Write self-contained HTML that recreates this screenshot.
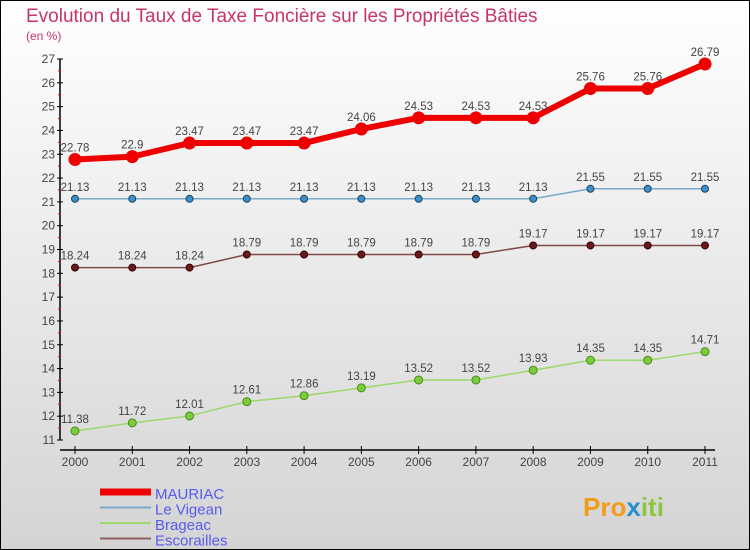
<!DOCTYPE html>
<html><head><meta charset="utf-8"><style>
body{margin:0}
#c{width:750px;height:550px;position:relative;box-sizing:border-box;border:1px solid #000;background:linear-gradient(#ffffff,#d4d4d4);font-family:"Liberation Sans",sans-serif;overflow:hidden}
</style></head><body>
<div id="c">
<svg id="s" width="750" height="550" style="position:absolute;left:-1px;top:-1px">
<text x="26" y="22" font-size="19" fill="#c8336a">Evolution du Taux de Taxe Foncière sur les Propriétés Bâties</text>
<text x="26" y="40" font-size="12" fill="#c8336a">(en %)</text>
<g id="axes"></g><g id="series"></g><g id="legend"></g>
<text x="583" y="516" font-size="26" font-weight="bold" fill="#f39c1a">Pro<tspan fill="#2a8fd0">x</tspan><tspan fill="#8cc63e">iti</tspan></text>
</svg>
</div>
<script>
const years=[2000,2001,2002,2003,2004,2005,2006,2007,2008,2009,2010,2011];
const yTicks=[11,12,13,14,15,16,17,18,19,20,21,22,23,24,25,26,27];
const mauriac=[22.78,22.9,23.47,23.47,23.47,24.06,24.53,24.53,24.53,25.76,25.76,26.79];
const vigean=[21.13,21.13,21.13,21.13,21.13,21.13,21.13,21.13,21.13,21.55,21.55,21.55];
const brageac=[11.38,11.72,12.01,12.61,12.86,13.19,13.52,13.52,13.93,14.35,14.35,14.71];
const escorailles=[18.24,18.24,18.24,18.79,18.79,18.79,18.79,18.79,19.17,19.17,19.17,19.17];
const NS='http://www.w3.org/2000/svg';
const x=i=>75+i*(630/11);
const y=v=>440-(v-11)*(381/16);
function mk(t,a,p){const e=document.createElementNS(NS,t);for(const k in a)e.setAttribute(k,a[k]);p.appendChild(e);return e;}
const ax=document.getElementById('axes');
let l=mk('line',{x1:60,y1:59,x2:60,y2:440,stroke:'#000','stroke-width':1.5},ax);


l=mk('line',{x1:60,y1:450,x2:715,y2:450,stroke:'#000','stroke-width':1.5},ax);


yTicks.forEach((v,i)=>{
 mk('line',{x1:57,x2:63,y1:y(v),y2:y(v),stroke:'#000'},ax);
 if(i<yTicks.length-1)mk('line',{x1:58,x2:61,y1:y(v+0.5),y2:y(v+0.5),stroke:'#e00'},ax);
 const t=mk('text',{x:55,y:y(v)+4,'font-size':12,'text-anchor':'end',fill:'#444'},ax);t.textContent=v;
 
 
});
years.forEach((yr,i)=>{
 mk('line',{x1:x(i),x2:x(i),y1:446,y2:454,stroke:'#000'},ax);
 const t=mk('text',{x:x(i),y:466,'font-size':12,'text-anchor':'middle',fill:'#444'},ax);t.textContent=yr;
 
 
});
const sg=document.getElementById('series');
function series(name,vals,color,w,r,fill,stroke){
 const g=mk('g',{},sg);
 
 
 mk('polyline',{points:vals.map((v,i)=>x(i)+','+y(v)).join(' '),fill:'none',stroke:color,'stroke-width':w,'stroke-linejoin':'round'},g);
 vals.forEach((v,i)=>{
  const c=mk('circle',{cx:x(i),cy:y(v),r:r,fill:fill,stroke:stroke,'stroke-width':1},g);
  
  
  const t=mk('text',{x:x(i),y:y(v)-8,'font-size':11.5,'text-anchor':'middle',fill:'#444'},g);
  t.textContent=String(v).replace(/\.?0+$/,'')===String(v)?v:v;
  
  
 });
}
series('vigean',vigean,'#7aa8c8',1.5,3.5,'#3a8fd0','#245');
series('escorailles',escorailles,'#804a4a',1.5,3.5,'#6a1a1a','#300');
series('brageac',brageac,'#9cd86a',1.5,4,'#7ccc3a','#4a8a20');
series('mauriac',mauriac,'#ee0000',6,6,'#ee0000','#ee0000');
const lg=document.getElementById('legend');
[['MAURIAC','#ee0000',7],['Le Vigean','#7aa8c8',2],['Brageac','#9cd86a',2],['Escorailles','#8a6060',2]].forEach((d,i)=>{
 const g=mk('g',{},lg);
 
 
 const yy=493+i*15.5;
 mk('line',{x1:100,x2:151,y1:yy-1,y2:yy-1,stroke:d[1],'stroke-width':d[2]},g);
 const t=mk('text',{x:155,y:yy+6,'font-size':15,fill:'#5a5aee'},g);t.textContent=d[0];
});
</script>
</body></html>
